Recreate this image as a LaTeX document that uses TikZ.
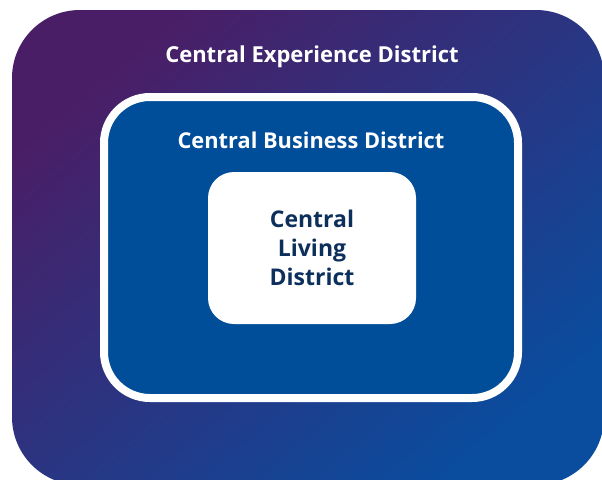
\documentclass[tikz,border=0pt]{standalone}
\usepackage{fontspec}
\setmainfont{Open Sans}
\usetikzlibrary{positioning}
\definecolor{cedpurple}{HTML}{4A1E66}
\definecolor{cedblue}{HTML}{0A4C9E}
\definecolor{cbdblue}{HTML}{004D99}
\definecolor{cldnavy}{HTML}{0C2F5C}
\tikzset{zone/.style={rectangle, inner sep=0pt, anchor=center}, title/.style={text=white, font=\fontsize{22}{26}\selectfont\bfseries}}

\begin{document}
\begin{tikzpicture}[x=1pt,y=-1pt]
    \clip (0,0) rectangle (602,479);
    \node[zone, rounded corners=68pt, minimum width=592pt, minimum height=475pt, top color=cedpurple, bottom color=cedblue, shading angle=40] (CED) at (308,247.5) {};
    \node[zone, rounded corners=46pt, draw=white, line width=8pt, fill=cbdblue, minimum width=414pt, minimum height=301pt] (CBD) at (311,247.5) {};
    \node[zone, rounded corners=26pt, fill=white, minimum width=208pt, minimum height=152pt] (CLD) at (312,248) {};
    \node[title] (CEDlabel) at (312,57) {Central Experience District};
    \node[title, font=\fontsize{21.8}{26}\selectfont\bfseries] (CBDlabel) at (311,140) {Central Business District};
    \node[title, text=cldnavy, align=center, font=\fontsize{23}{29}\selectfont\bfseries] (CLDlabel) at (CLD) {Central\\Living\\District};
\end{tikzpicture}
\end{document}
